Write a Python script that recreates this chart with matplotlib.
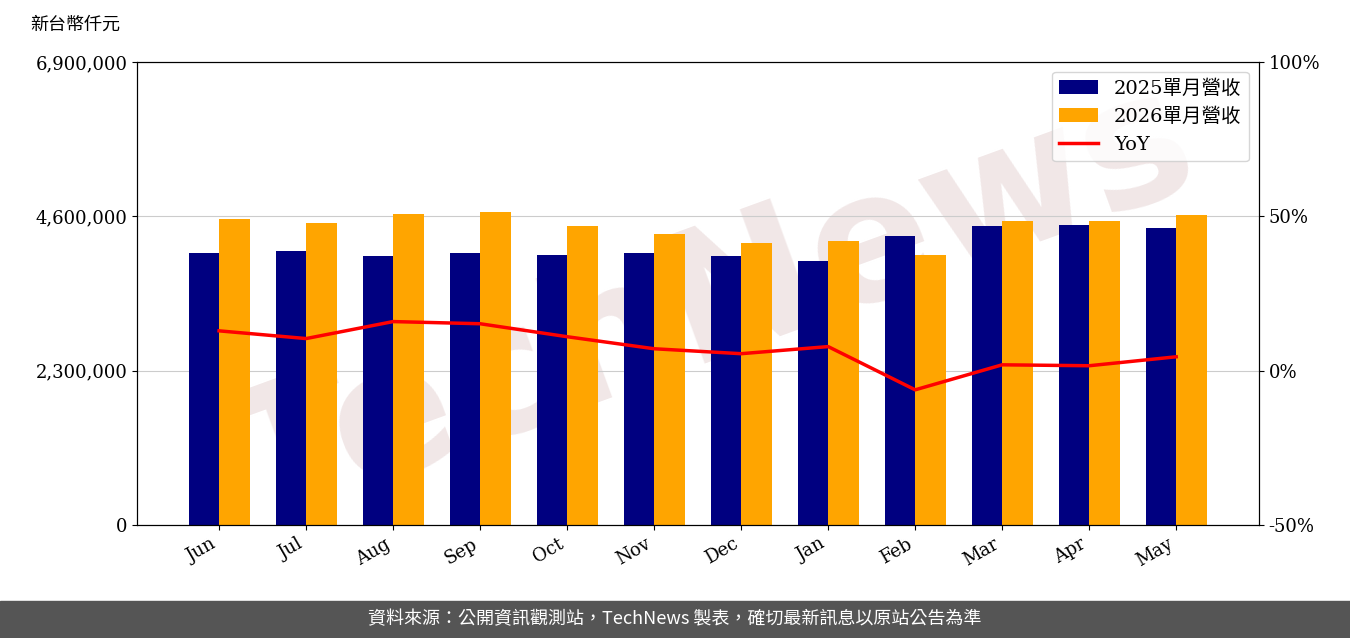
import matplotlib.pyplot as plt
import numpy as np

months = ['Jun', 'Jul', 'Aug', 'Sep', 'Oct', 'Nov', 'Dec', 'Jan', 'Feb', 'Mar', 'Apr', 'May']
rev_2025 = [4054000, 4083000, 4010000, 4054000, 4024000, 4054000, 4010000, 3934000, 4307000, 4456000, 4471000, 4426000]
rev_2026 = [4560000, 4500000, 4635000, 4665000, 4456000, 4337000, 4203000, 4232000, 4024000, 4530000, 4530000, 4620000]
yoy = [12.9, 10.4, 15.9, 15.2, 11.0, 7.1, 5.5, 7.8, -6.2, 1.9, 1.6, 4.5]

plt.rcParams['font.family'] = ['DejaVu Serif', 'Noto Sans CJK TC']

fig = plt.figure(figsize=(13.5, 6.38), dpi=100)
ax = fig.add_axes([0.1015, 0.177, 0.831, 0.726])
x = np.arange(len(months))
w = 0.35
ax.bar(x - w / 2, rev_2025, w, color='#000080', label='2025單月營收', zorder=2)
ax.bar(x + w / 2, rev_2026, w, color='#FFA500', label='2026單月營收', zorder=2)
ax.set_ylim(0, 6900000)
ax.set_yticks([0, 2300000, 4600000, 6900000])
ax.set_yticklabels(['0', '2,300,000', '4,600,000', '6,900,000'], fontsize=13)
ax.yaxis.grid(True, color='#cccccc', zorder=0)
ax.set_xticks(x)
ax.set_xticklabels(months, rotation=30, ha='right', fontsize=13)
ax.set_xlim(-0.943, 11.95)
ax.text(-0.095, 1.07, '新台幣仟元', transform=ax.transAxes, fontsize=13, ha='left')

# watermark behind the bars
ax.text(0.53, 0.52, 'TechNews', fontsize=130, color='#c8a0a0', alpha=0.25,
        rotation=20, ha='center', va='center', family='DejaVu Sans', weight='bold',
        transform=fig.transFigure, zorder=1, clip_on=False)

ax2 = ax.twinx()
ax2.plot(x, yoy, color='red', linewidth=2.5, label='YoY', zorder=3)
ax2.set_ylim(-50, 100)
ax2.set_yticks([-50, 0, 50, 100])
ax2.set_yticklabels(['-50%', '0%', '50%', '100%'], fontsize=13)

h1, l1 = ax.get_legend_handles_labels()
h2, l2 = ax2.get_legend_handles_labels()
ax2.legend(h1 + h2, l1 + l2, loc='upper right', fontsize=14)

fig.patches.append(plt.Rectangle((0, 0), 1, 0.058, transform=fig.transFigure, color='#555555', zorder=-1))
fig.text(0.5, 0.029, '資料來源：公開資訊觀測站，TechNews 製表，確切最新訊息以原站公告為準',
         color='white', fontsize=13, ha='center', va='center', family=['Noto Sans CJK TC'])

fig.savefig('out.png', dpi=100)
